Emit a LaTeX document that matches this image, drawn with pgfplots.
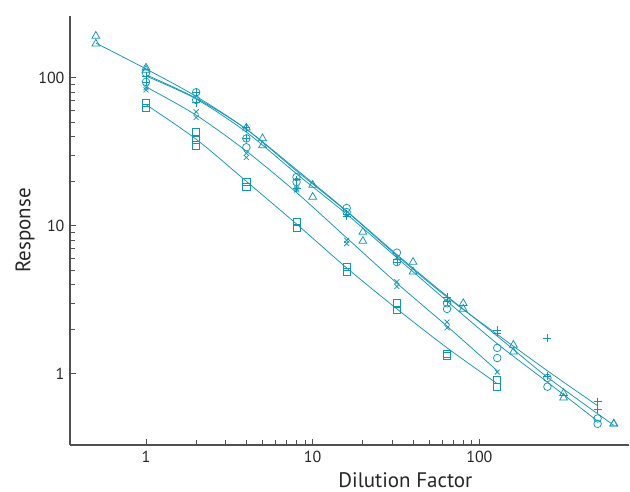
\documentclass[border=0pt]{standalone}
\usepackage{pgfplots}
\pgfplotsset{compat=1.18}
\usepackage{fontspec}
\setmainfont{PT Sans}
\definecolor{teal1}{RGB}{18,150,182}
\definecolor{axgray}{RGB}{80,80,80}
\begin{document}
\begin{tikzpicture}
\begin{loglogaxis}[
  at={(0,0)}, anchor=south west,
  scale only axis, width=559pt, height=429pt,
  xmin=0.35, xmax=790, ymin=0.331, ymax=262,
  axis x line=bottom, axis y line=left,
  axis line style={-, axgray, line width=1.3pt},
  tick style={axgray, line width=1pt},
  tick align=inside,
  major tick length=6pt, minor tick length=5pt,
  xtick={1,10,100}, xticklabels={1,10,100},
  ytick={1,10,100}, yticklabels={1,10,100},
  tick label style={font=\fontsize{16}{19}\selectfont, text=black!85},
  xticklabel style={yshift=-3pt},
  yticklabel style={xshift=-2pt},
  xlabel={Dilution Factor}, ylabel={Response},
  label style={font=\fontsize{21}{25}\selectfont, text=black!85},
  xlabel style={at={(axis description cs:0.6,0)}, anchor=north, yshift=-24pt},
  ylabel style={at={(axis description cs:0,0.5)}, anchor=south, yshift=32pt},
  every axis plot/.append style={teal1, line width=0.75pt},
  clip=false,
]
% fitted curves
\addplot[smooth, no marks] coordinates {(0.5,172) (1,115) (2,75) (4,45) (8,24) (16,12.6) (32,6.4) (64,3.35) (128,1.8) (256,0.95) (640,0.45)};
\addplot[smooth, no marks] coordinates {(1,105) (2,73) (4,45) (8,23.5) (16,12.5) (32,6.3) (64,3.3) (128,1.85) (256,1.05) (512,0.61)};
\addplot[smooth, no marks] coordinates {(1,103) (2,72) (4,43) (8,22.5) (16,12) (32,6.1) (64,3.1) (128,1.6) (256,0.88) (512,0.48)};
\addplot[smooth, no marks] coordinates {(1,87) (2,56) (4,32) (8,16.8) (16,8.3) (32,4.1) (64,2.1) (128,1.05)};
\addplot[smooth, no marks] coordinates {(1,66) (2,38.5) (4,20) (8,10.3) (16,5.2) (32,2.75) (64,1.5) (128,0.86)};
% triangles
\addplot[only marks, mark=triangle, mark size=4.5pt] coordinates {
(0.5,192) (0.5,170) (1,117) (1,113) (4,46) (5,39) (5,35) (10,18.9) (10,15.7)
(20,9.1) (20,7.9) (40,5.7) (40,4.9) (80,3.0) (80,2.75) (160,1.57) (160,1.41)
(320,0.74) (320,0.69) (640,0.46) (640,0.46)};
% circles
\addplot[only marks, mark=o, mark size=3.8pt] coordinates {
(1,108) (1,94) (2,80) (2,71) (4,39) (4,34) (8,21.4) (8,19.8) (16,13.2) (16,12.4)
(32,6.6) (32,5.7) (64,3.0) (64,2.75) (128,1.50) (128,1.28) (256,0.94) (256,0.82)
(512,0.50) (512,0.46)};
% plus
\addplot[only marks, mark=+, mark size=4pt] coordinates {
(1,103) (1,94) (2,80) (2,68) (4,46) (4,39) (8,20.5) (8,18) (16,12) (16,11.6)
(32,5.9) (32,5.7) (64,3.3) (64,3.1) (128,1.98) (128,1.89) (256,1.75) (256,0.97)
(512,0.65) (512,0.58)};
% x
\addplot[only marks, mark=x, mark size=3.5pt] coordinates {
(1,86) (1,83) (2,59) (2,54) (4,31) (4,29) (8,18) (8,17.5) (16,8.0) (16,7.6)
(32,4.2) (32,3.9) (64,2.24) (64,2.05) (128,1.03)};
% squares
\addplot[only marks, mark=square, mark size=3.6pt] coordinates {
(1,68) (1,63) (2,43) (2,38) (2,35) (4,19.8) (4,18.4) (8,10.6) (8,9.7) (16,5.3) (16,4.9)
(32,3.0) (32,2.71) (64,1.36) (64,1.33) (128,0.91) (128,0.82)};
\end{loglogaxis}
\pgfresetboundingbox
\path (-70pt,-47pt) rectangle (560pt,445pt);
\end{tikzpicture}
\end{document}
